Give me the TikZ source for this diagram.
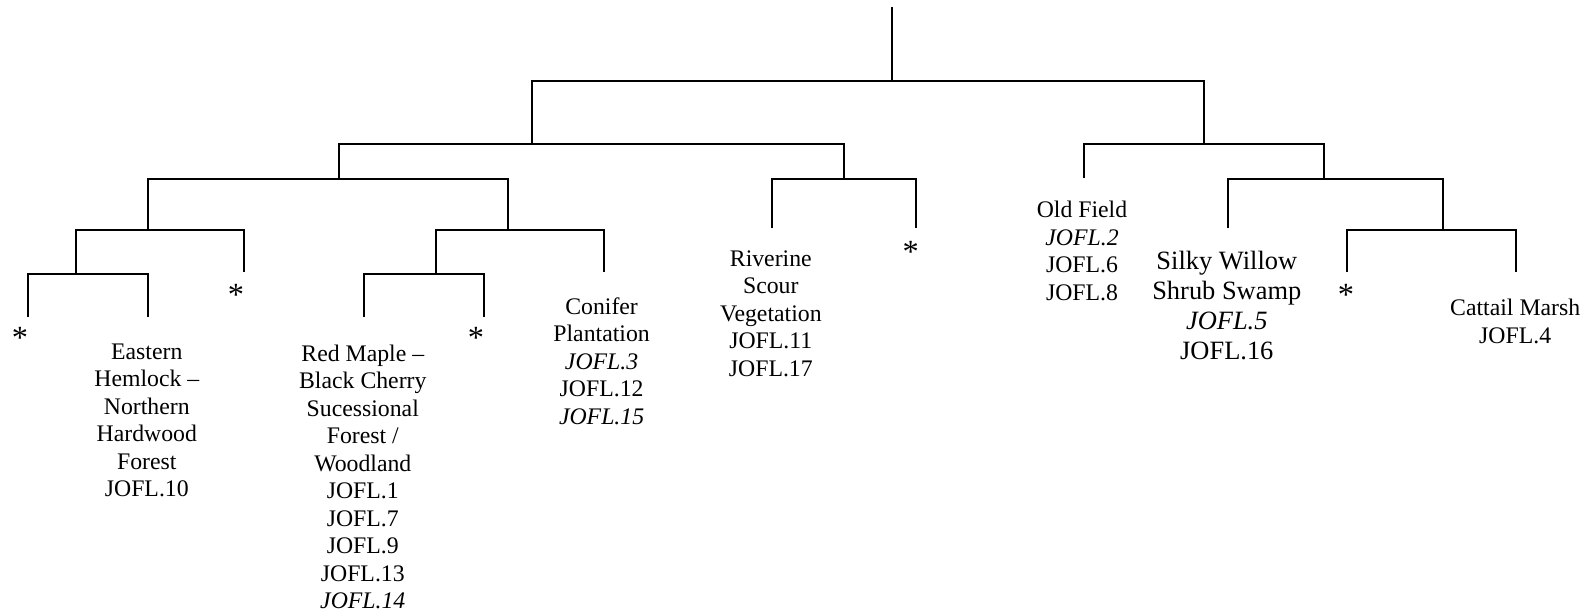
\documentclass[tikz,border=0pt]{standalone}
\usepackage[svgnames]{xcolor}
\usepackage{fontspec}
\setmainfont{Liberation Serif}
\usepackage{tikz}
\pgfdeclarelayer{edgelayer}
\pgfdeclarelayer{nodelayer}
\pgfsetlayers{edgelayer,nodelayer,main}
\tikzstyle{none}=[inner sep=0pt]
\tikzstyle{leaf}=[align=center,anchor=north,inner sep=0pt,text=Black,font=\fontsize{16.9}{19.56}\selectfont]
\tikzstyle{bigleaf}=[leaf,font=\fontsize{18.8}{21.34}\selectfont]
\tikzstyle{star}=[anchor=north,inner sep=0pt,text=Black,font=\fontsize{23}{26}\selectfont]
\tikzstyle{simple}=[-,draw=Black,line width=1.5pt]

\begin{document}
\begin{tikzpicture}
	\useasboundingbox (0,0) rectangle (39.725,-15.375);
	\begin{pgfonlayer}{nodelayer}
		\node [style=none] (0) at (22.3, -0.18) {};
		\node [style=none] (1) at (22.3, -2.03) {};
		\node [style=none] (2) at (13.29, -2.03) {};
		\node [style=none] (3) at (30.1, -2.03) {};
		\node [style=none] (4) at (13.29, -3.6) {};
		\node [style=none] (5) at (8.48, -3.6) {};
		\node [style=none] (6) at (21.1, -3.6) {};
		\node [style=none] (7) at (30.1, -3.6) {};
		\node [style=none] (8) at (27.1, -3.6) {};
		\node [style=none] (9) at (33.1, -3.6) {};
		\node [style=none] (10) at (8.48, -4.48) {};
		\node [style=none] (11) at (3.71, -4.48) {};
		\node [style=none] (12) at (12.69, -4.48) {};
		\node [style=none] (13) at (21.1, -4.48) {};
		\node [style=none] (14) at (19.29, -4.48) {};
		\node [style=none] (15) at (22.9, -4.48) {};
		\node [style=none] (16) at (33.1, -4.48) {};
		\node [style=none] (17) at (30.69, -4.48) {};
		\node [style=none] (18) at (36.08, -4.48) {};
		\node [style=none] (19) at (27.1, -4.46) {};
		\node [style=none] (20) at (3.71, -5.75) {};
		\node [style=none] (21) at (1.9, -5.75) {};
		\node [style=none] (22) at (6.1, -5.75) {};
		\node [style=none] (23) at (12.69, -5.75) {};
		\node [style=none] (24) at (10.9, -5.75) {};
		\node [style=none] (25) at (15.1, -5.75) {};
		\node [style=none] (26) at (36.08, -5.75) {};
		\node [style=none] (27) at (33.67, -5.75) {};
		\node [style=none] (28) at (37.9, -5.75) {};
		\node [style=none] (29) at (19.29, -5.71) {};
		\node [style=none] (30) at (22.9, -5.71) {};
		\node [style=none] (31) at (30.69, -5.71) {};
		\node [style=none] (32) at (1.9, -6.85) {};
		\node [style=none] (33) at (0.69, -6.85) {};
		\node [style=none] (34) at (3.71, -6.85) {};
		\node [style=none] (35) at (10.9, -6.85) {};
		\node [style=none] (36) at (9.09, -6.85) {};
		\node [style=none] (37) at (12.1, -6.85) {};
		\node [style=none] (38) at (6.1, -6.81) {};
		\node [style=none] (39) at (15.1, -6.81) {};
		\node [style=none] (40) at (33.67, -6.81) {};
		\node [style=none] (41) at (37.9, -6.81) {};
		\node [style=none] (42) at (0.69, -7.93) {};
		\node [style=none] (43) at (3.71, -7.93) {};
		\node [style=none] (44) at (9.09, -7.93) {};
		\node [style=none] (45) at (12.1, -7.93) {};
		\node [style=leaf] (46) at (3.67, -8.59) {Eastern\\Hemlock –\\Northern\\Hardwood\\Forest\\JOFL.10};
		\node [style=leaf] (47) at (9.07, -8.61) {Red Maple –\\Black Cherry\\Sucessional\\Forest /\\Woodland\\JOFL.1\\JOFL.7\\JOFL.9\\JOFL.13\\\textit{JOFL.14}};
		\node [style=leaf] (48) at (15.04, -7.43) {Conifer\\Plantation\\\textit{JOFL.3}\\JOFL.12\\\textit{JOFL.15}};
		\node [style=leaf] (49) at (19.27, -6.25) {Riverine\\Scour\\Vegetation\\JOFL.11\\JOFL.17};
		\node [style=leaf] (50) at (27.05, -5.03) {Old Field\\\textit{JOFL.2}\\JOFL.6\\JOFL.8};
		\node [style=bigleaf] (51) at (30.67, -6.28) {Silky Willow\\Shrub Swamp\\\textit{JOFL.5}\\JOFL.16};
		\node [style=leaf] (52) at (37.88, -7.47) {Cattail Marsh\\JOFL.4};
		\node [style=star] (53) at (0.5, -8.18) {*};
		\node [style=star] (54) at (5.9, -7.11) {*};
		\node [style=star] (55) at (11.9, -8.18) {*};
		\node [style=star] (56) at (22.77, -6.03) {*};
		\node [style=star] (57) at (33.65, -7.11) {*};
	\end{pgfonlayer}
	\begin{pgfonlayer}{edgelayer}
		\draw [style=simple] (0.center) to (1.center);
		\draw [style=simple] (4.center) to (2.center) to (3.center) to (7.center);
		\draw [style=simple] (10.center) to (5.center) to (6.center) to (13.center);
		\draw [style=simple] (19.center) to (8.center) to (9.center) to (16.center);
		\draw [style=simple] (20.center) to (11.center) to (12.center) to (23.center);
		\draw [style=simple] (29.center) to (14.center) to (15.center) to (30.center);
		\draw [style=simple] (31.center) to (17.center) to (18.center) to (26.center);
		\draw [style=simple] (32.center) to (21.center) to (22.center) to (38.center);
		\draw [style=simple] (35.center) to (24.center) to (25.center) to (39.center);
		\draw [style=simple] (40.center) to (27.center) to (28.center) to (41.center);
		\draw [style=simple] (42.center) to (33.center) to (34.center) to (43.center);
		\draw [style=simple] (44.center) to (36.center) to (37.center) to (45.center);
	\end{pgfonlayer}
\end{tikzpicture}
\end{document}
